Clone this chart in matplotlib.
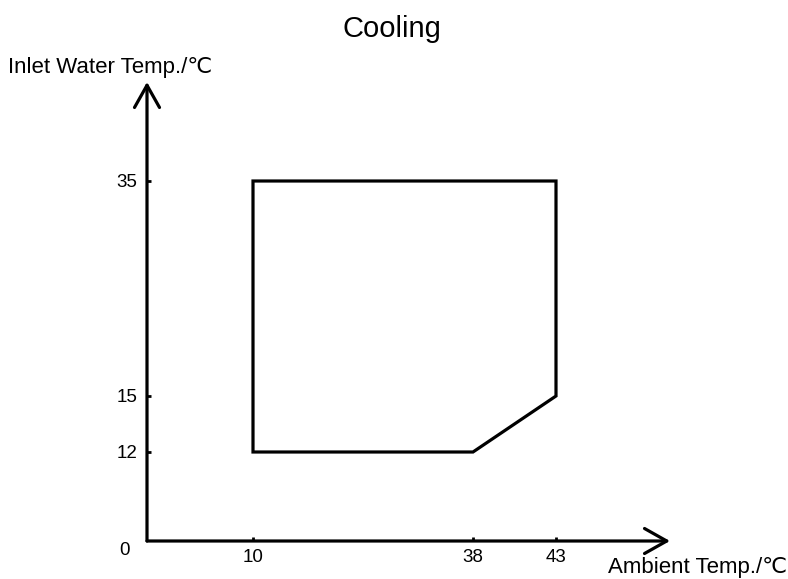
import numpy as np
import matplotlib
matplotlib.use("Agg")
import matplotlib.pyplot as plt
from matplotlib.patches import Polygon

plt.rcParams['font.family'] = ['Liberation Sans', 'DejaVu Sans']

# operating envelope (ambient temp, inlet water temp)
env_x = [10, 43, 43, 38, 10]
env_y = [35, 35, 15, 12, 12]

x_ticks = [10, 38, 43]
y_ticks = [12, 15, 35]
x_max, y_max = 50, 44

# the sketch is not drawn to scale: piecewise linear axes
x_knots = ([0, 10, 38, 43, 50], [0, 106, 326, 409, 523])
y_knots = ([0, 12, 15, 35, 44], [0, 89, 145, 360, 459])

def fwd(knots):
    return lambda v: np.interp(v, knots[0], knots[1], left=-1e3, right=1e4)

def inv(knots):
    return lambda v: np.interp(v, knots[1], knots[0], left=-1e3, right=1e4)

fig = plt.figure(figsize=(7.88, 5.79), dpi=100)
ax = fig.add_axes([147/788, 38/579, 523/788, 459/579])
ax.set_xscale('function', functions=(fwd(x_knots), inv(x_knots)))
ax.set_yscale('function', functions=(fwd(y_knots), inv(y_knots)))
ax.set_xlim(0, x_max)
ax.set_ylim(0, y_max)

ax.add_patch(Polygon(np.column_stack([env_x, env_y]), closed=True,
                     fill=False, edgecolor='black', lw=2.3,
                     joinstyle='miter'))

for s in ax.spines.values():
    s.set_visible(False)

arrow = dict(arrowstyle='->,head_length=0.8,head_width=0.45', lw=2.3,
             color='black', mutation_scale=20, shrinkA=0, shrinkB=0)
ax.annotate('', xy=(x_max, 0), xytext=(0, 0), arrowprops=arrow,
            annotation_clip=False)
ax.annotate('', xy=(0, y_max), xytext=(0, 0), arrowprops=arrow,
            annotation_clip=False)

ax.set_xticks(x_ticks)
ax.set_xticklabels([str(v) for v in x_ticks])
ax.set_yticks(y_ticks)
ax.set_yticklabels([str(v) for v in y_ticks])
ax.minorticks_off()
ax.tick_params(direction='in', length=3, width=2, labelsize=13.5,
               colors='black')
ax.tick_params(axis='x', pad=6)
ax.tick_params(axis='y', pad=7)

ax.annotate('0', xy=(0, 0), xytext=(-16, -7), textcoords='offset points',
            fontsize=13.5, ha='center', va='center', annotation_clip=False)

fig.text(392/788, 1 - 29/579, 'Cooling', fontsize=21, ha='center',
         va='center')
fig.text(8/788, 1 - 73/579, 'Inlet Water Temp./\u2103', fontsize=16,
         ha='left', va='baseline')
fig.text(787/788, 1 - 573/579, 'Ambient Temp./\u2103', fontsize=16,
         ha='right', va='baseline')

fig.savefig('out.png', dpi=100)
